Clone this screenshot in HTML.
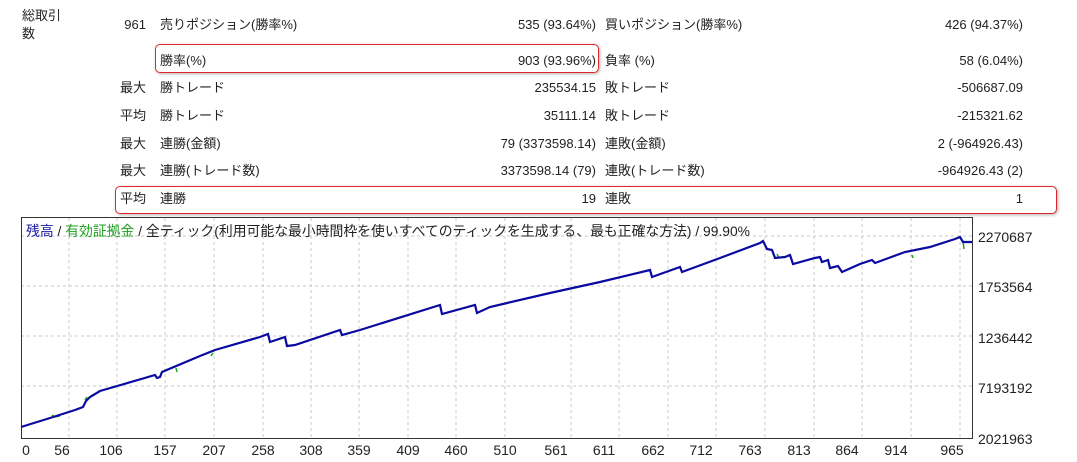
<!DOCTYPE html>
<html><head><meta charset="utf-8"><style>
body{margin:0;width:1077px;height:462px;background:#fff;font-family:"Liberation Sans","Noto Sans CJK JP",sans-serif;font-size:13px;color:#222;position:relative;overflow:hidden}
.t{position:absolute;white-space:nowrap;line-height:16px}
.r{text-align:right}
.box{position:absolute;border:1.5px solid #e0262b;border-radius:5px;box-shadow:1px 1px 3px rgba(0,0,0,.3)}
</style></head><body>
<div class="t" style="left:22px;top:8px">総取引</div>
<div class="t" style="left:22px;top:26px">数</div>
<div class="box" style="left:155px;top:44px;width:442px;height:27px"></div>
<div class="box" style="left:115px;top:186px;width:940px;height:26px"></div>
<div class="t r" style="left:60px;width:86px;top:17px">961</div>
<div class="t" style="left:160px;top:17px">売りポジション(勝率%)</div>
<div class="t r" style="left:400px;width:196px;top:17px">535 (93.64%)</div>
<div class="t" style="left:605px;top:17px">買いポジション(勝率%)</div>
<div class="t r" style="left:800px;width:223px;top:17px">426 (94.37%)</div>

<div class="t" style="left:160px;top:53px">勝率(%)</div>
<div class="t r" style="left:400px;width:196px;top:53px">903 (93.96%)</div>
<div class="t" style="left:605px;top:53px">負率 (%)</div>
<div class="t r" style="left:800px;width:223px;top:53px">58 (6.04%)</div>

<div class="t r" style="left:60px;width:86px;top:80px">最大</div>
<div class="t" style="left:160px;top:80px">勝トレード</div>
<div class="t r" style="left:400px;width:196px;top:80px">235534.15</div>
<div class="t" style="left:605px;top:80px">敗トレード</div>
<div class="t r" style="left:800px;width:223px;top:80px">-506687.09</div>

<div class="t r" style="left:60px;width:86px;top:108px">平均</div>
<div class="t" style="left:160px;top:108px">勝トレード</div>
<div class="t r" style="left:400px;width:196px;top:108px">35111.14</div>
<div class="t" style="left:605px;top:108px">敗トレード</div>
<div class="t r" style="left:800px;width:223px;top:108px">-215321.62</div>

<div class="t r" style="left:60px;width:86px;top:136px">最大</div>
<div class="t" style="left:160px;top:136px">連勝(金額)</div>
<div class="t r" style="left:400px;width:196px;top:136px">79 (3373598.14)</div>
<div class="t" style="left:605px;top:136px">連敗(金額)</div>
<div class="t r" style="left:800px;width:223px;top:136px">2 (-964926.43)</div>

<div class="t r" style="left:60px;width:86px;top:163px">最大</div>
<div class="t" style="left:160px;top:163px">連勝(トレード数)</div>
<div class="t r" style="left:400px;width:196px;top:163px">3373598.14 (79)</div>
<div class="t" style="left:605px;top:163px">連敗(トレード数)</div>
<div class="t r" style="left:800px;width:223px;top:163px">-964926.43 (2)</div>

<div class="t r" style="left:60px;width:86px;top:191px">平均</div>
<div class="t" style="left:160px;top:191px">連勝</div>
<div class="t r" style="left:400px;width:196px;top:191px">19</div>
<div class="t" style="left:605px;top:191px">連敗</div>
<div class="t r" style="left:800px;width:223px;top:191px">1</div>

<svg style="position:absolute;left:0;top:0" width="1077" height="462">
<g stroke="#c8c8c8" stroke-dasharray="3,3" stroke-width="1">
<line x1="69" y1="218" x2="69" y2="438"/><line x1="117" y1="218" x2="117" y2="438"/><line x1="165" y1="218" x2="165" y2="438"/><line x1="214" y1="218" x2="214" y2="438"/><line x1="263" y1="218" x2="263" y2="438"/><line x1="311" y1="218" x2="311" y2="438"/><line x1="359" y1="218" x2="359" y2="438"/><line x1="408" y1="218" x2="408" y2="438"/><line x1="456" y1="218" x2="456" y2="438"/><line x1="505" y1="218" x2="505" y2="438"/><line x1="571" y1="218" x2="571" y2="438"/><line x1="619" y1="218" x2="619" y2="438"/><line x1="668" y1="218" x2="668" y2="438"/><line x1="716" y1="218" x2="716" y2="438"/><line x1="765" y1="218" x2="765" y2="438"/><line x1="814" y1="218" x2="814" y2="438"/><line x1="862" y1="218" x2="862" y2="438"/><line x1="911" y1="218" x2="911" y2="438"/><line x1="960" y1="218" x2="960" y2="438"/>
<line x1="21" y1="236" x2="972" y2="236"/><line x1="21" y1="286" x2="972" y2="286"/><line x1="21" y1="336" x2="972" y2="336"/><line x1="21" y1="386" x2="972" y2="386"/>
</g>
<rect x="21.5" y="217.5" width="951" height="221" fill="none" stroke="#333" stroke-width="1"/>
<g fill="none" stroke="#20a020" stroke-width="1.5">
<polyline points="52,415 55,417 60,416"/><polyline points="85,400 87,397"/><polyline points="176,368 177,372"/><polyline points="211,356 213,353"/>
<polyline points="651,272 652,277"/><polyline points="777,254 779,258"/><polyline points="912,255 913,258"/><polyline points="963,241 964,249"/>
</g>
<polyline fill="none" stroke="#0a0aa0" stroke-width="2.2" points="21,427 50,418 75,410 83,407 86,401 90,397 100,391 155,375 157,378 160,377 162,372 200,356 215,350 260,337 268,334 270,342 285,337 287,346 295,345 340,330 342,335 360,330 440,305 442,314 475,305 477,313 490,307 550,293 600,282 650,270 652,277 680,267 682,272 720,258 760,243 763,241 767,249 772,250 775,258 785,257 790,255 793,264 815,258 820,257 822,262 828,260 830,268 838,266 842,272 860,264 872,260 875,263 905,252 930,247 955,239 960,237 963,242 972,242"/>
<g font-family="Liberation Sans, sans-serif" font-size="14" fill="#222">
<text x="26" y="455" text-anchor="middle">0</text><text x="62" y="455" text-anchor="middle">56</text><text x="111" y="455" text-anchor="middle">106</text><text x="165" y="455" text-anchor="middle">157</text><text x="214" y="455" text-anchor="middle">207</text><text x="263" y="455" text-anchor="middle">258</text><text x="311" y="455" text-anchor="middle">308</text><text x="359" y="455" text-anchor="middle">359</text><text x="408" y="455" text-anchor="middle">409</text><text x="456" y="455" text-anchor="middle">460</text><text x="505" y="455" text-anchor="middle">510</text><text x="556" y="455" text-anchor="middle">561</text><text x="604" y="455" text-anchor="middle">611</text><text x="653" y="455" text-anchor="middle">662</text><text x="701" y="455" text-anchor="middle">712</text><text x="750" y="455" text-anchor="middle">763</text><text x="799" y="455" text-anchor="middle">813</text><text x="847" y="455" text-anchor="middle">864</text><text x="896" y="455" text-anchor="middle">914</text><text x="952" y="455" text-anchor="middle">965</text>
<text x="978" y="242">2270687</text><text x="978" y="292">1753564</text><text x="978" y="343">1236442</text><text x="978" y="393">7193192</text><text x="978" y="444">2021963</text>
</g>
<text x="26" y="236" font-family="Liberation Sans, Noto Sans CJK JP, sans-serif" font-size="14" textLength="724" lengthAdjust="spacingAndGlyphs" fill="#222"><tspan fill="#1a1aa0">残高</tspan> / <tspan fill="#20a020">有効証拠金</tspan> / 全ティック(利用可能な最小時間枠を使いすべてのティックを生成する、最も正確な方法) / 99.90%</text>
</svg>
</body></html>
